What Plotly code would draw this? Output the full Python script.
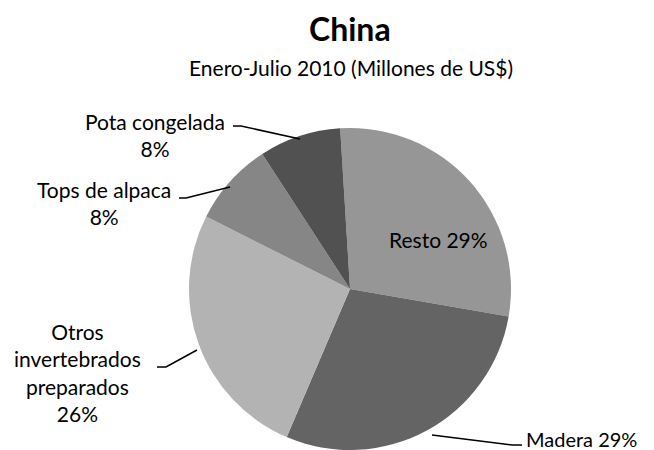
import plotly.graph_objects as go

# Data
categories = ["Resto", "Madera", "Otros invertebrados preparados", "Tops de alpaca", "Pota congelada"]
values = [28.7, 28.7, 26.0, 8.4, 8.2]
pct_labels = ["29%", "29%", "26%", "8%", "8%"]
colors = ["#969696", "#646464", "#b3b3b3", "#868686", "#515151"]

W, H = 654, 450
FONT = "Lato"
LS = 21

fig = go.Figure()
fig.add_trace(go.Pie(
    labels=categories,
    values=values,
    sort=False,
    direction="clockwise",
    rotation=-3.5,
    marker=dict(colors=colors, line=dict(width=0)),
    textinfo="none",
    hoverinfo="label+percent",
    domain=dict(x=[188 / W, 512 / W], y=[0, 322 / H]),
    showlegend=False,
))

def px(x, y):
    return x / W, 1 - y / H

annotations = []
shapes = []

def add_text(text, x, y, size=LS, bold=False, xanchor="center"):
    ax, ay = px(x, y)
    annotations.append(dict(
        x=ax, y=ay, xref="paper", yref="paper", text=("<b>%s</b>" % text) if bold else text,
        showarrow=False, font=dict(family=FONT, size=size, color="#000000"),
        xanchor=xanchor, yanchor="middle", align="center",
    ))

def add_line(points):
    path = ""
    for i, (x, y) in enumerate(points):
        ax, ay = px(x, y)
        path += ("M" if i == 0 else "L") + " %f %f " % (ax, ay)
    shapes.append(dict(type="path", path=path, xref="paper", yref="paper",
                       line=dict(color="#000000", width=1.5)))

# Title
add_text("China", 350, 29, size=32, bold=True)
add_text("Enero-Julio 2010 (Millones de US$)", 351, 68, size=LS)

# Slice labels
add_text(categories[0] + " " + pct_labels[0], 438, 239)
add_text(categories[1] + " " + pct_labels[1], 524, 439, size=20, xanchor="left")
add_text("Otros<br>invertebrados<br>preparados<br>" + pct_labels[2], 77, 372)
add_text(categories[3] + "<br>" + pct_labels[3], 104, 203)
add_text(categories[4] + "<br>" + pct_labels[4], 155, 135)

# Leader lines
add_line([(233, 126), (241, 126), (300, 139)])
add_line([(179, 198), (186, 198), (230, 187)])
add_line([(157, 367), (166, 367), (197, 350)])
add_line([(432, 435), (512, 445), (522, 445)])

fig.update_layout(
    width=W, height=H,
    margin=dict(l=0, r=0, t=0, b=0),
    paper_bgcolor="#ffffff",
    plot_bgcolor="#ffffff",
    annotations=annotations,
    shapes=shapes,
)

fig.write_html("out.html", config={"displayModeBar": False},
               post_script="document.body.style.margin='0';")
